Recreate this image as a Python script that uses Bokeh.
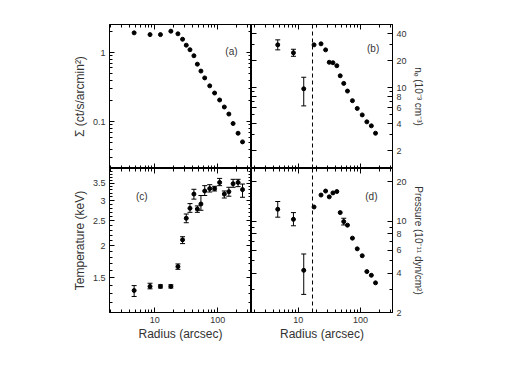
from bokeh.plotting import figure
from bokeh.models import (LogAxis, FixedTicker, CustomJSTickFormatter, ColumnDataSource,
                          Whisker, TeeHead, Span, Label, Range1d)
from bokeh.layouts import row, column
from bokeh.embed import file_html
from bokeh.resources import INLINE

# ---------------- data ----------------
radius_arcsec = [4.7, 8.4, 12.3, 18.0, 23.3, 27.6, 31.6, 36.2, 41.8, 47.4,
                 54.0, 62.0, 74.5, 89.0, 107.0, 127.0, 150.0, 175.0, 210.0, 247.0]

surface_brightness = [1.93, 1.82, 1.82, 2.04, 1.87, 1.56, 1.28, 1.10, 0.90, 0.68,
                      0.54, 0.43, 0.33, 0.26, 0.206, 0.163, 0.129, 0.094, 0.068, 0.051]

density = [30.0, 24.5, 9.75, 30.0, 30.8, 26.4, 19.2, 19.0, 17.6, 13.6,
           11.2, 9.2, 7.2, 5.9, 5.0, 4.19, 3.78, 3.13]
density_lo = [26.4, 22.4, 6.3] + [None] * 15
density_hi = [34.1, 26.8, 13.1] + [None] * 15

temperature = [1.34, 1.39, 1.39, 1.39, 1.66, 2.11, 2.56, 2.80, 3.18, 2.78,
               2.91, 3.27, 3.34, 3.34, 3.53, 3.18, 3.25, 3.49, 3.53, 3.31]
temperature_lo = [1.27, 1.36, 1.37, 1.37, 1.62, 2.04, 2.46, 2.70, 3.04, 2.70,
                  2.75, 3.14, 3.24, 3.27, 3.43, 3.07, 3.12, 3.38, 3.40, 3.09]
temperature_hi = [1.40, 1.43, 1.41, 1.41, 1.70, 2.17, 2.66, 2.92, 3.32, 2.86,
                  3.14, 3.43, 3.46, 3.41, 3.66, 3.27, 3.38, 3.63, 3.63, 3.48]

pressure = [12.3, 10.3, 4.2, 12.8, 15.8, 16.95, 15.3, 16.4, 16.8, 11.6,
            9.9, 9.3, 7.4, 6.13, 5.43, 4.11, 3.85, 3.37]
pressure_lo = [10.7, 9.2, 2.75] + [None] * 7 + [9.33] + [None] * 7
pressure_hi = [14.1, 11.6, 5.6] + [None] * 7 + [10.5] + [None] * 7

r_break = 17.0

x_major = [10, 100]
x_minor = [2, 3, 4, 5, 6, 7, 8, 9, 20, 30, 40, 50, 60, 70, 80, 90, 200, 300]
sb_major = [0.1, 1]
sb_minor = [0.03, 0.04, 0.05, 0.06, 0.07, 0.08, 0.09, 0.2, 0.3, 0.4, 0.5, 0.6, 0.7, 0.8, 0.9, 2]
ne_major = [2, 4, 6, 8, 10, 20, 40]
ne_minor = [3, 5, 7, 9, 30, 50]
t_major = [1.5, 2, 2.5, 3, 3.5]
t_minor = [1.2, 1.3, 1.4, 1.6, 1.7, 1.8, 1.9, 2.1, 2.2, 2.3, 2.4, 2.6, 2.7, 2.8, 2.9,
           3.1, 3.2, 3.3, 3.4, 3.6, 3.7, 3.8, 3.9]
p_major = [2, 4, 6, 8, 10, 20]
p_minor = [3, 5, 7, 9]

FONT = "Liberation Sans"
TXT = "#333333"


def add_axis(p, side, major, minor, show_labels, label_text=None, label_size="12px"):
    ax = LogAxis(ticker=FixedTicker(ticks=major, minor_ticks=minor))
    ax.major_tick_in = 5
    ax.major_tick_out = 0
    ax.minor_tick_in = 3
    ax.minor_tick_out = 0
    ax.axis_line_color = "black"
    ax.major_tick_line_color = "black"
    ax.minor_tick_line_color = "black"
    if show_labels:
        ax.formatter = CustomJSTickFormatter(code="return String(tick);")
        ax.major_label_text_font = FONT
        ax.major_label_text_font_size = "9px"
        ax.major_label_text_color = TXT
        ax.major_label_standoff = 4
    else:
        ax.formatter = CustomJSTickFormatter(code="return '';")
        ax.major_label_text_font_size = "1px"
        ax.major_label_standoff = 0
    if label_text:
        ax.axis_label = label_text
        ax.axis_label_text_font = FONT
        ax.axis_label_text_font_size = label_size
        ax.axis_label_text_font_style = "normal"
        ax.axis_label_text_color = TXT
        ax.axis_label_standoff = 3
    p.add_layout(ax, side)
    return ax


def make_fig(w, h, xr, yr, left, right, top, bottom):
    p = figure(width=w, height=h, x_axis_type="log", y_axis_type="log",
               x_range=Range1d(*xr), y_range=Range1d(*yr),
               x_axis_location=None, y_axis_location=None,
               output_backend="svg", toolbar_location=None,
               min_border=0, min_border_left=left, min_border_right=right,
               min_border_top=top, min_border_bottom=bottom)
    p.grid.visible = False
    p.outline_line_color = "black"
    p.background_fill_color = "white"
    p.border_fill_color = "white"
    return p


def error_bars(p, xs, lo, hi):
    xx, ll, hh = [], [], []
    for x, a, b in zip(xs, lo, hi):
        if a is not None and b is not None:
            xx.append(x); ll.append(a); hh.append(b)
    src = ColumnDataSource(dict(x=xx, lo=ll, hi=hh))
    w = Whisker(source=src, base="x", lower="lo", upper="hi", dimension="height",
                line_color="black", line_width=1,
                lower_head=TeeHead(size=5, line_color="black", line_width=1),
                upper_head=TeeHead(size=5, line_color="black", line_width=1))
    p.add_layout(w)


def panel_label(p, x, y, text):
    p.add_layout(Label(x=x, y=y, text=text, text_align="center", text_baseline="middle",
                       text_font=FONT, text_font_size="10px", text_color=TXT))


XR_L = (1.91, 343)
XR_R = (1.78, 328)

# (a) surface brightness
pa = make_fig(251, 168, XR_L, (0.021, 2.55), 109, 0, 24, 0)
add_axis(pa, "left", sb_major, sb_minor, True, "Σ (ct/s/arcmin²)")
add_axis(pa, "right", sb_major, sb_minor, False)
add_axis(pa, "above", x_major, x_minor, False)
add_axis(pa, "below", x_major, x_minor, False)
pa.scatter(radius_arcsec, surface_brightness, marker="circle", size=4, color="black")
panel_label(pa, 165, 1.05, "(a)")

# (b) density
nb = len(density)
pb = make_fig(201, 168, XR_R, (1.27, 50.5), 0, 60, 24, 0)
add_axis(pb, "left", ne_major, ne_minor, False)
add_axis(pb, "right", ne_major, ne_minor, True, "nₑ (10⁻³ cm⁻³)", "10px")
add_axis(pb, "above", x_major, x_minor, False)
add_axis(pb, "below", x_major, x_minor, False)
error_bars(pb, radius_arcsec[:nb], density_lo, density_hi)
pb.scatter(radius_arcsec[:nb], density, marker="circle", size=4, color="black")
pb.add_layout(Span(location=r_break, dimension="height", line_color="black",
                   line_dash="4 3", line_width=1))
panel_label(pb, 160, 27.4, "(b)")

# (c) temperature
pc = make_fig(251, 184, XR_L, (1.1, 4.0), 109, 0, 0, 40)
add_axis(pc, "left", t_major, t_minor, True, "Temperature (keV)")
add_axis(pc, "right", t_major, t_minor, False)
add_axis(pc, "above", x_major, x_minor, False)
ax_c = add_axis(pc, "below", x_major, x_minor, True, "Radius (arcsec)")
ax_c.axis_label_standoff = 1
error_bars(pc, radius_arcsec, temperature_lo, temperature_hi)
pc.scatter(radius_arcsec, temperature, marker="circle", size=4, color="black")
panel_label(pc, 6.2, 3.1, "(c)")

# (d) pressure
nd = len(pressure)
pd_ = make_fig(201, 184, XR_R, (2.0, 25.2), 0, 60, 0, 40)
add_axis(pd_, "left", p_major, p_minor, False)
add_axis(pd_, "right", p_major, p_minor, True, "Pressure (10⁻¹¹ dyn/cm²)", "10px")
add_axis(pd_, "above", x_major, x_minor, False)
ax_d = add_axis(pd_, "below", x_major, x_minor, True, "Radius (arcsec)")
ax_d.axis_label_standoff = 1
error_bars(pd_, radius_arcsec[:nd], pressure_lo, pressure_hi)
pd_.scatter(radius_arcsec[:nd], pressure, marker="circle", size=4, color="black")
pd_.add_layout(Span(location=r_break, dimension="height", line_color="black",
                    line_dash="4 3", line_width=1))
panel_label(pd_, 150, 15.3, "(d)")

layout = column(row(pa, pb), row(pc, pd_))
open("out.html", "w").write(file_html(layout, INLINE))
